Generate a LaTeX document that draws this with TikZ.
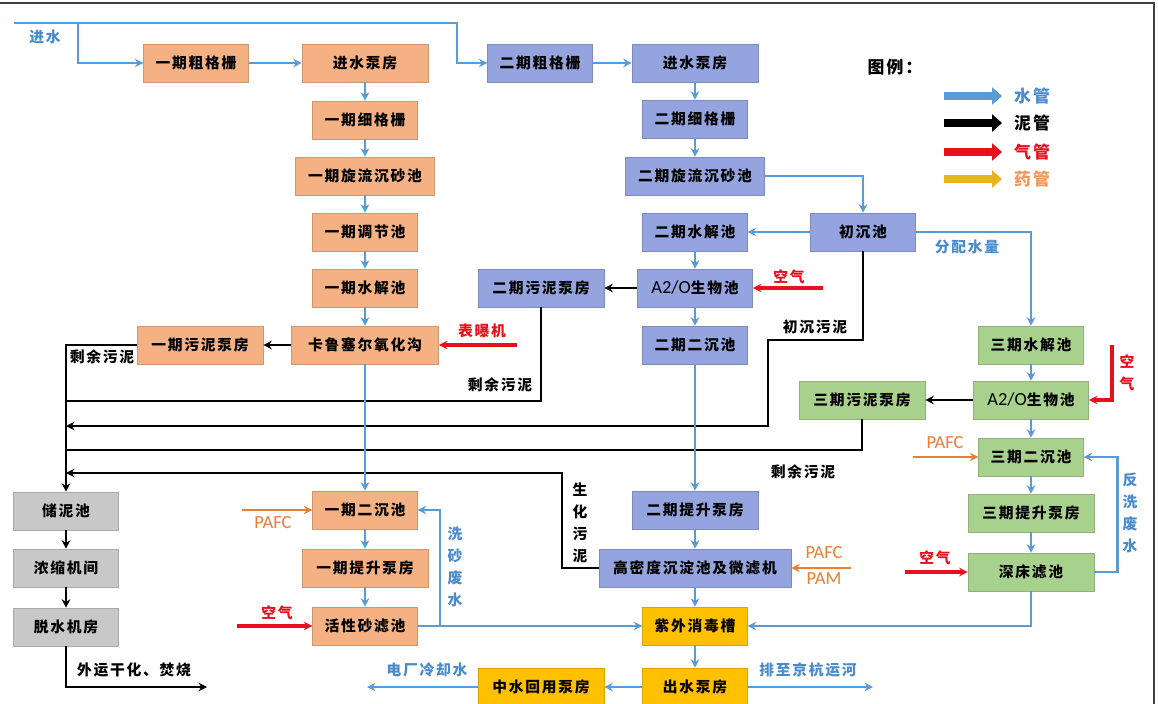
\documentclass[tikz,border=0pt]{standalone}
\usepackage{fontspec}
\setmainfont[LetterSpace=12]{Noto Sans CJK SC}
\newfontfamily\lat[Scale=1.25]{Carlito}
\usetikzlibrary{arrows.meta}

\definecolor{pipeblue}{HTML}{5B9BD5}
\definecolor{textblue}{HTML}{4A8BCB}
\definecolor{airred}{HTML}{E8101C}
\definecolor{chemorange}{HTML}{ED7D31}
\definecolor{legendgold}{HTML}{E6B422}
\definecolor{fillone}{HTML}{F4B183}
\definecolor{filltwo}{HTML}{93A4DE}
\definecolor{fillthree}{HTML}{A9D18E}
\definecolor{fillsludge}{HTML}{C8C8C8}
\definecolor{fillout}{HTML}{FFC000}
\definecolor{framegray}{HTML}{404040}

\tikzset{
  box/.style={minimum height=0.95cm, inner sep=0pt, line width=0.4pt},
  phaseone/.style={box, fill=fillone, draw=fillone!85!black},
  phasetwo/.style={box, fill=filltwo, draw=filltwo!85!black},
  phasethree/.style={box, fill=fillthree, draw=fillthree!85!black},
  sludgebox/.style={box, fill=fillsludge, draw=fillsludge!85!black},
  outbox/.style={box, fill=fillout, draw=fillout!85!black},
  wa/.style={minimum width=2.62cm},
  wb/.style={minimum width=3.15cm},
  wc/.style={minimum width=3.48cm},
  wd/.style={minimum width=3.68cm},
  we/.style={minimum width=2.88cm},
  wf/.style={minimum width=4.8cm},
  pipe/.style={line width=2pt, -{Stealth[length=6pt,width=6pt]}},
  water/.style={pipe, pipeblue},
  sludge/.style={pipe, black},
  air/.style={pipe, airred, line width=2.2pt},
  chem/.style={pipe, chemorange},
  lab/.style={inner sep=0pt},
  vlab/.style={inner sep=0pt, align=center, font=\fontsize{10.5}{15.8}\selectfont\bfseries},
  chemlab/.style={inner sep=0pt, text=chemorange, font=\lat\fontsize{10.5}{12}\selectfont},
  legfont/.style={inner sep=0pt, font=\fontsize{12}{14}\selectfont\bfseries},
  legarrow/.style={line width=5pt, -{Triangle[length=7pt,width=12pt]}}
}

\begin{document}
\begin{tikzpicture}[x=0.025cm, y=-0.025cm, font=\fontsize{10.5}{12}\selectfont\bfseries]
\useasboundingbox [fill=white] (0,0) rectangle (1158,704);

% frame
\draw [framegray, line width=0.8pt] (0,3) -- (1154,3) -- (1154,704);

% phase one
\node [phaseone, wa] (cg1) at (196,63) {一期粗格栅};
\node [phaseone, wb] (pump1) at (365,63) {进水泵房};
\node [phaseone, wa] (fg1) at (365,120) {一期细格栅};
\node [phaseone, wc] (grit1) at (365,176) {一期旋流沉砂池};
\node [phaseone, wa] (eq1) at (365,232) {一期调节池};
\node [phaseone, wa] (hy1) at (365,288) {一期水解池};
\node [phaseone, wd] (ox1) at (365,345) {卡鲁塞尔氧化沟};
\node [phaseone, wb] (sp1) at (200,345) {一期污泥泵房};
\node [phaseone, wa] (sc1) at (365,510) {一期二沉池};
\node [phaseone, wb] (lift1) at (365,568) {一期提升泵房};
\node [phaseone, wa] (sand1) at (365,626) {活性砂滤池};

% phase two
\node [phasetwo, wa] (cg2) at (540,63) {二期粗格栅};
\node [phasetwo, wb] (pump2) at (695,63) {进水泵房};
\node [phasetwo, wa] (fg2) at (695,119) {二期细格栅};
\node [phasetwo, wc] (grit2) at (695,176) {二期旋流沉砂池};
\node [phasetwo, wa] (hy2) at (695,232) {二期水解池};
\node [phasetwo, wa] (prim) at (863,232) {初沉池};
\node [phasetwo, we] (ao2) at (695,288) {{\lat\mdseries A2/O}生物池};
\node [phasetwo, wb] (sp2) at (541,288) {二期污泥泵房};
\node [phasetwo, wa] (sc2) at (695,345) {二期二沉池};
\node [phasetwo, wb] (lift2) at (695,510) {二期提升泵房};
\node [phasetwo, wf] (hd) at (695,568) {高密度沉淀池及微滤机};

% outlet
\node [outbox, wa] (uv) at (695,626) {紫外消毒槽};
\node [outbox, wa] (outpump) at (695,687) {出水泵房};
\node [outbox, wb] (reuse) at (541,687) {中水回用泵房};

% phase three
\node [phasethree, wa] (hy3) at (1031,345) {三期水解池};
\node [phasethree, we] (ao3) at (1031,400) {{\lat\mdseries A2/O}生物池};
\node [phasethree, wb] (sp3) at (862,400) {三期污泥泵房};
\node [phasethree, wa] (sc3) at (1031,457) {三期二沉池};
\node [phasethree, wb] (lift3) at (1031,513) {三期提升泵房};
\node [phasethree, wb] (deep) at (1031,572) {深床滤池};

% sludge line
\node [sludgebox, wa] (stor) at (66,511) {储泥池};
\node [sludgebox, wa] (thick) at (66,568) {浓缩机间};
\node [sludgebox, wa] (dew) at (66,627) {脱水机房};

% free ends
\coordinate (inlet) at (14,23);
\coordinate (split) at (78,23);
\coordinate (wash) at (440,626);
\coordinate (cool) at (367,687);
\coordinate (canal) at (873,687);
\coordinate (j1) at (66,401);
\coordinate (j2) at (66,426);
\coordinate (j3) at (66,450);
\coordinate (j4) at (66,473);
\coordinate (ext) at (207,687);
\coordinate (a1) at (517,345);
\coordinate (a2) at (823,288);
\coordinate (a3) at (1112,345);
\coordinate (a4) at (237,626);
\coordinate (a5) at (905,572);
\coordinate (c1) at (242,510);
\coordinate (c2) at (851,568);
\coordinate (c3) at (913,457);

% sludge pipes
\draw [sludge] (ox1) -- (sp1);
\draw [sludge] (sp1.west) -| (stor.north);
\draw [sludge, -] (sp2.south) |- (j1);
\draw [sludge] (prim.south) |- (768,340) |- (j2);
\draw [sludge, -] (sp3.south) |- (j3);
\draw [sludge] (hd.west) -| (562,473) -- (j4);
\draw [sludge] (ao2) -- (sp2);
\draw [sludge] (ao3) -- (sp3);
\draw [sludge] (stor) -- (thick);
\draw [sludge] (thick) -- (dew);
\draw [sludge] (dew.south) |- (ext);

% water pipes
\draw [water] (inlet) -- (457,23) |- (cg2.west);
\draw [water] (split) |- (cg1.west);
\draw [water] (cg1) -- (pump1);
\draw [water] (pump1) -- (fg1);
\draw [water] (fg1) -- (grit1);
\draw [water] (grit1) -- (eq1);
\draw [water] (eq1) -- (hy1);
\draw [water] (hy1) -- (ox1);
\draw [water, line width=1.4pt] (ox1) -- (sc1);
\draw [water] (sc1) -- (lift1);
\draw [water] (lift1) -- (sand1);
\draw [water] (sand1) -- (uv);
\draw [water] (wash) |- (sc1.east);

\draw [water] (cg2) -- (pump2);
\draw [water] (pump2) -- (fg2);
\draw [water] (fg2) -- (grit2);
\draw [water] (grit2.east) -| (prim.north);
\draw [water] (prim) -- (hy2);
\draw [water] (hy2) -- (ao2);
\draw [water] (ao2) -- (sc2);
\draw [water] (sc2) -- (lift2);
\draw [water] (lift2) -- (hd);
\draw [water] (hd) -- (uv);
\draw [water] (uv) -- (outpump);
\draw [water] (outpump) -- (reuse);
\draw [water] (reuse) -- (cool);
\draw [water] (outpump) -- (canal);

\draw [water] (prim.east) -| (hy3.north);
\draw [water] (hy3) -- (ao3);
\draw [water] (ao3) -- (sc3);
\draw [water] (sc3) -- (lift3);
\draw [water] (lift3) -- (deep);
\draw [water] (deep.east) -- ++(23,0) |- (sc3.east);
\draw [water] (deep.south) |- (uv.east);

% air and chemicals
\draw [air] (a1) -- (ox1);
\draw [air] (a2) -- (ao2);
\draw [air] (a3) |- (ao3.east);
\draw [air] (a4) -- (sand1);
\draw [air] (a5) -- (deep);
\draw [chem] (c1) -- (sc1);
\draw [chem] (c2) -- (hd);
\draw [chem] (c3) -- (sc3);

% labels
\node [lab, text=textblue] (l1) at (45,37) {进水};
\node [lab] (l2) at (102,357) {剩余污泥};
\node [lab, text=airred] (l3) at (482,331) {表曝机};
\node [lab] (l4) at (500,385) {剩余污泥};
\node [lab, text=airred] (l5) at (789,277) {空气};
\node [lab] (l6) at (815,327) {初沉污泥};
\node [lab, text=textblue] (l7) at (967,247) {分配水量};
\node [lab] (l8) at (803,472) {剩余污泥};
\node [vlab] (l9) at (580,523) {生\\化\\污\\泥};
\node [vlab, text=airred] (l10) at (1127,373) {空\\气};
\node [chemlab] (l11) at (945,443) {PAFC};
\node [lab, text=airred] (l12) at (935,558) {空气};
\node [vlab, text=textblue] (l13) at (1130,513) {反\\洗\\废\\水};
\node [chemlab] (l14) at (273,523) {PAFC};
\node [lab, text=airred] (l15) at (277,613) {空气};
\node [vlab, text=textblue] (l16) at (455,567) {洗\\砂\\废\\水};
\node [chemlab] (l17) at (824,553) {PAFC};
\node [chemlab] (l18) at (824,579) {PAM};
\node [lab, text=textblue] (l19) at (427,670) {电厂冷却水};
\node [lab, text=textblue] (l20) at (808,670) {排至京杭运河};
\node [lab] (l21) at (134,670) {外运干化、焚烧};

% legend
\node [legfont] (legtitle) at (895,67) {图例：};
\node [legfont, text=textblue] (lg1) at (1032,96) {水管};
\node [legfont] (lg2) at (1032,123) {泥管};
\node [legfont, text=airred] (lg3) at (1032,152) {气管};
\node [legfont, text=chemorange!80!white] (lg4) at (1032,179) {药管};
\coordinate (lg1a) at (944,96);
\coordinate (lg2a) at (944,123);
\coordinate (lg3a) at (944,152);
\coordinate (lg4a) at (944,179);
\draw [legarrow, pipeblue] (lg1a) -- ++(58,0);
\draw [legarrow, black] (lg2a) -- ++(58,0);
\draw [legarrow, airred] (lg3a) -- ++(58,0);
\draw [legarrow, legendgold] (lg4a) -- ++(58,0);

\end{tikzpicture}
\end{document}
